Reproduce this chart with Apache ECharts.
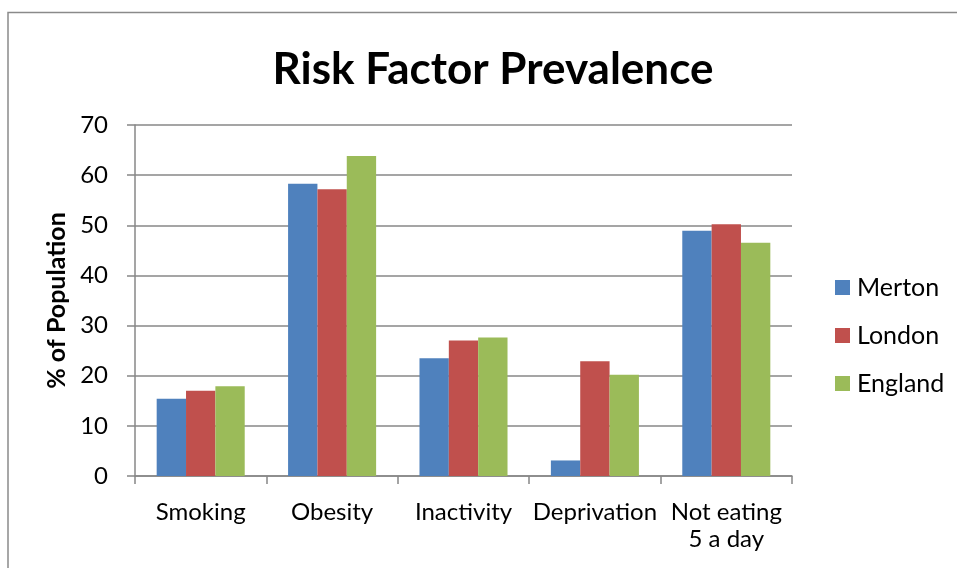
<!DOCTYPE html>
<html>
<head>
<meta charset="utf-8">
<title>Risk Factor Prevalence</title>
<script src="https://cdn.jsdelivr.net/npm/echarts@6/dist/echarts.min.js"></script>
<style>
  html, body { margin: 0; padding: 0; background: #fff; }
  #chart { width: 957px; height: 568px; }
</style>
</head>
<body>
<div id="chart"></div>
<script>
// Risk factor prevalence (% of population) by area
const categories = ['Smoking', 'Obesity', 'Inactivity', 'Deprivation', 'Not eating\n5 a day'];
const seriesNames = ['Merton', 'London', 'England'];
const merton = [15.4, 58.3, 23.5, 3.1, 48.9];
const london = [17.0, 57.2, 27.0, 22.9, 50.2];
const england = [17.9, 63.8, 27.6, 20.2, 46.5];
const seriesColors = ['#4F81BD', '#C0504D', '#9BBB59'];

const FONT = 'Lato, "Open Sans", sans-serif';
const GRID_COLOR = '#878787';

const chart = echarts.init(document.getElementById('chart'), null, { renderer: 'canvas' });

const values = [merton, london, england];

chart.setOption({
  backgroundColor: '#ffffff',
  animation: false,
  textStyle: { fontFamily: FONT, color: '#000' },
  graphic: [{
    type: 'rect',
    shape: { x: 8, y: 12.5, width: 1200, height: 1000 },
    style: { fill: 'none', stroke: '#8a8a8a', lineWidth: 1.5 },
    silent: true
  }],
  title: {
    text: 'Risk Factor Prevalence',
    left: 488,
    textAlign: 'center',
    top: 43,
    textStyle: { fontFamily: FONT, fontWeight: 'bold', fontSize: 44, color: '#000' }
  },
  legend: {
    orient: 'vertical',
    left: 830,
    top: 270,
    itemWidth: 15,
    itemHeight: 15,
    itemGap: 23,
    icon: 'rect',
    data: seriesNames,
    textStyle: { fontFamily: FONT, fontSize: 25, color: '#000', padding: [0, 0, 0, 2] }
  },
  grid: { left: 135, right: 165, top: 125, bottom: 92 },
  xAxis: {
    type: 'category',
    data: categories,
    axisLine: { show: true, lineStyle: { color: GRID_COLOR, width: 1.5 } },
    axisTick: { show: true, length: 8, inside: false, lineStyle: { color: GRID_COLOR, width: 1.5 } },
    axisLabel: { fontFamily: FONT, fontSize: 24, color: '#000', margin: 23, lineHeight: 27, interval: 0 }
  },
  yAxis: {
    type: 'value',
    min: 0,
    max: 70,
    interval: 10,
    name: '% of Population',
    nameLocation: 'middle',
    nameRotate: 90,
    nameGap: 64,
    nameTextStyle: { fontFamily: FONT, fontWeight: 'bold', fontSize: 25, color: '#000' },
    axisLine: { show: true, lineStyle: { color: GRID_COLOR, width: 1.5 } },
    axisTick: { show: true, length: 8, inside: false, lineStyle: { color: GRID_COLOR, width: 1.5 } },
    axisLabel: { fontFamily: FONT, fontSize: 24, color: '#000', margin: 27 },
    splitLine: { show: true, lineStyle: { color: GRID_COLOR, width: 1.5 } }
  },
  series: seriesNames.map((name, i) => ({
    name: name,
    type: 'bar',
    data: values[i],
    barGap: '0%',
    barCategoryGap: '33%',
    itemStyle: { color: seriesColors[i] }
  }))
});
</script>
</body>
</html>
